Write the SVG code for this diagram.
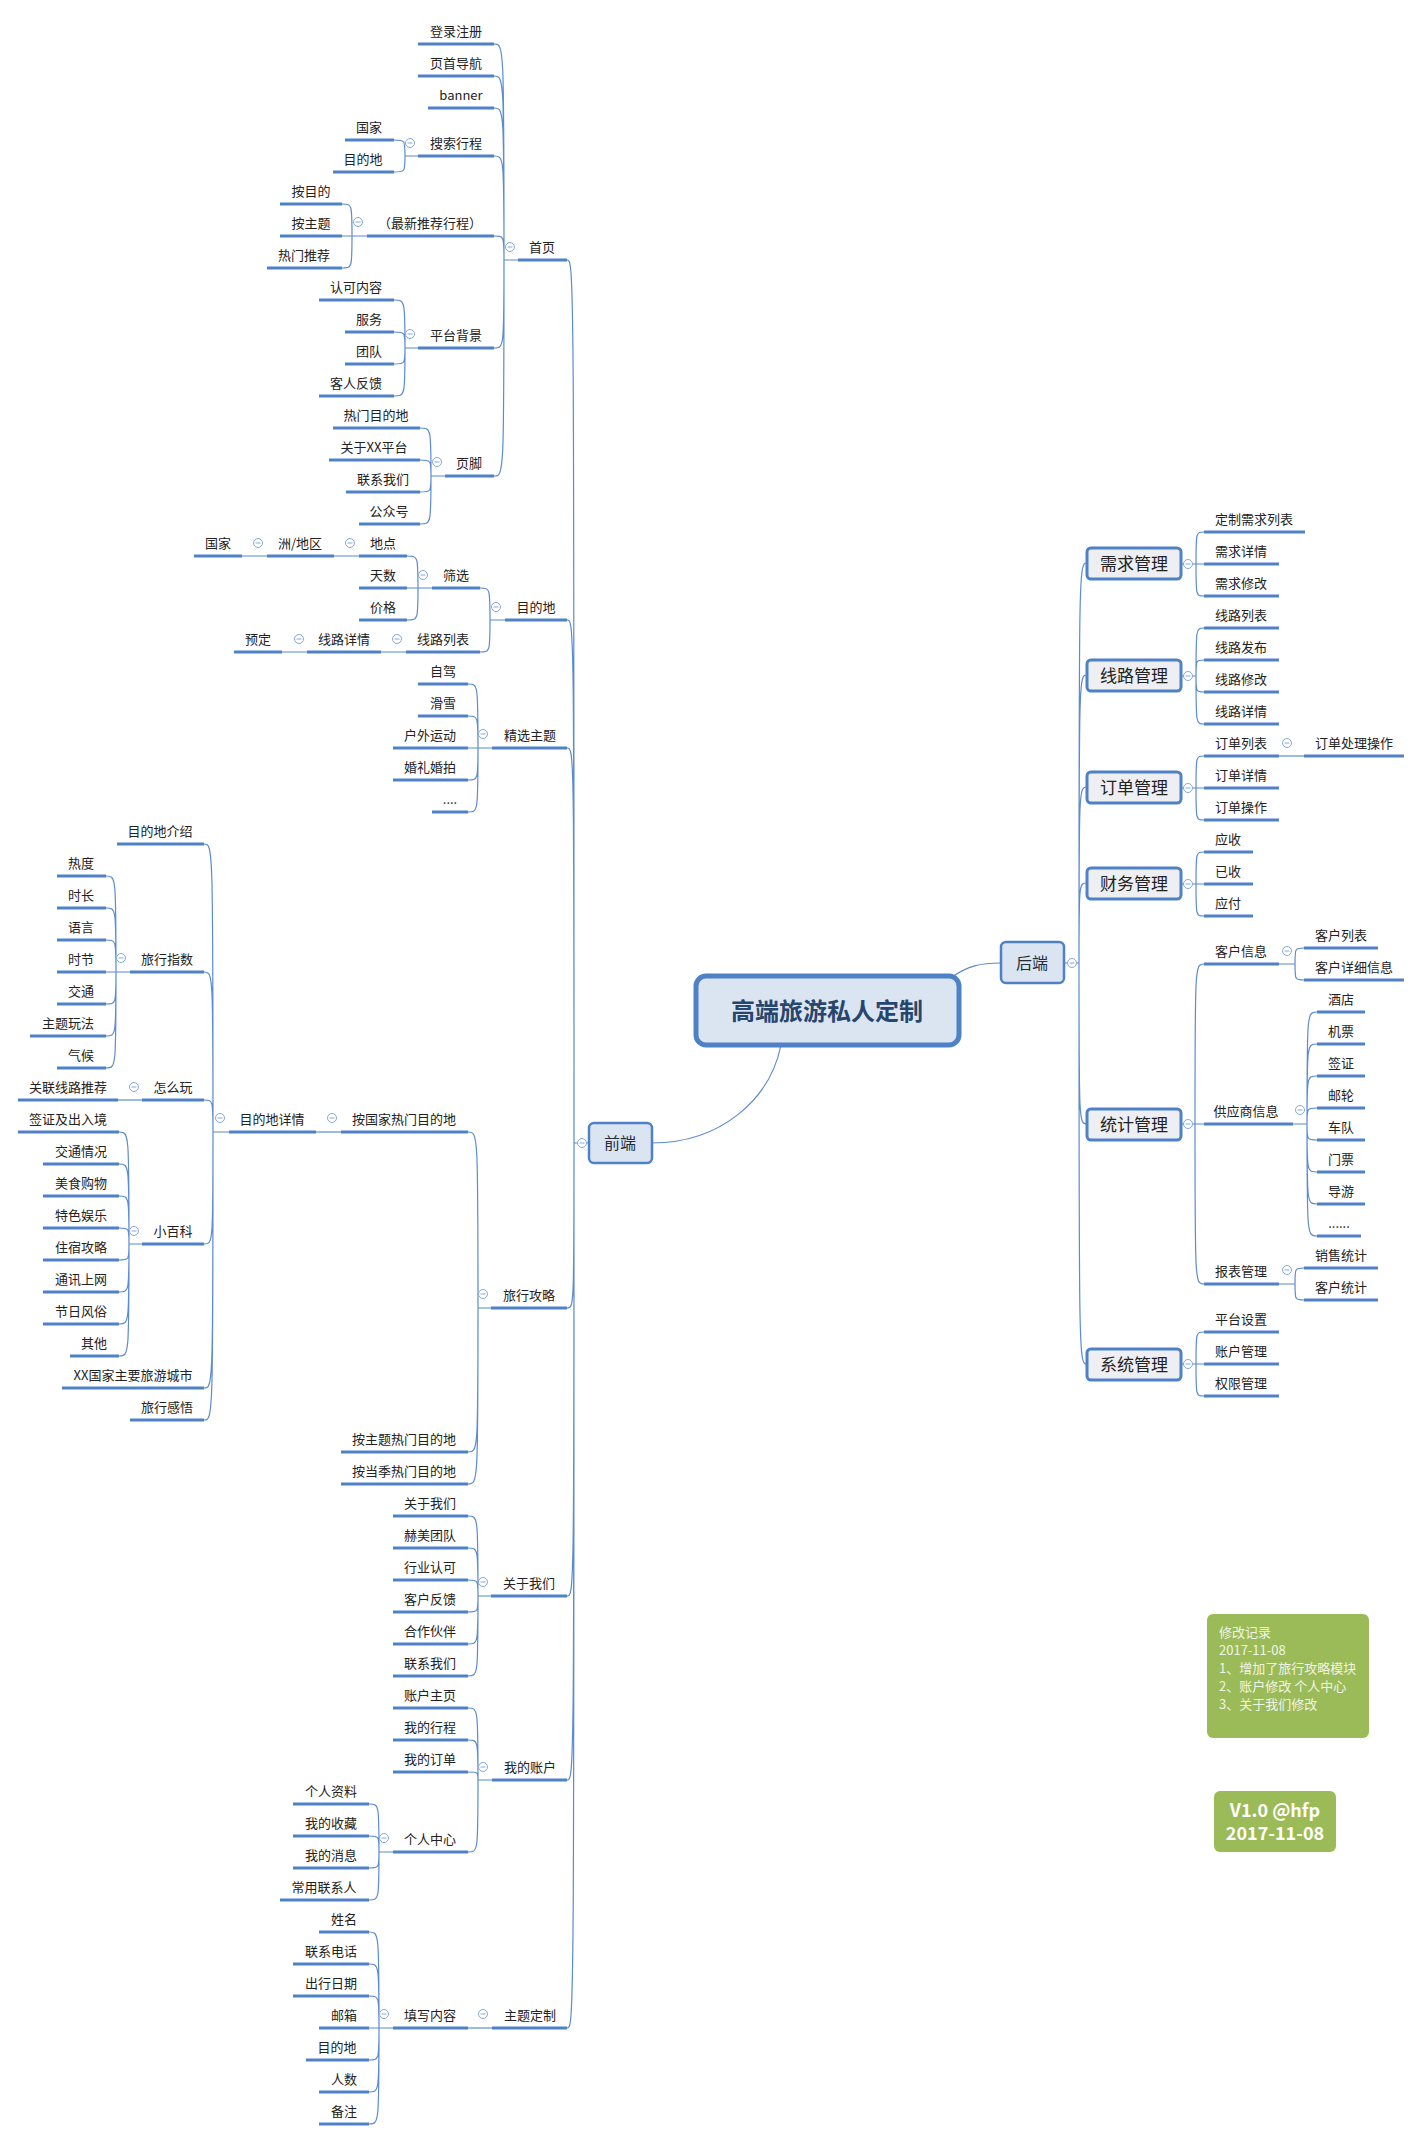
<svg xmlns="http://www.w3.org/2000/svg" xmlns:xlink="http://www.w3.org/1999/xlink" width="1422" height="2141" viewBox="0 0 1422 2141">
<style>
.u{stroke:#4f81c7;stroke-width:3}
.c{fill:none;stroke:#5b8bd0;stroke-width:1.2}
.t{font-family:"Noto Sans CJK SC","Noto Sans",sans-serif;font-size:13px;fill:#222;text-anchor:middle}
.b{fill:#eeeff3;stroke:#4f81c7;stroke-width:3}
.bt{font-family:"Noto Sans CJK SC",sans-serif;font-size:17px;fill:#222;text-anchor:middle}
.nt{font-family:"Noto Sans CJK SC",sans-serif;font-size:13px;fill:#f1f5e6}
.vt{font-family:"Noto Sans CJK SC",sans-serif;font-size:18px;font-weight:bold;fill:#fff;text-anchor:middle}
</style>
<defs>
<g id="mi"><circle r="4.5" fill="#fff" stroke="#86a8d8" stroke-width="1"/><path d="M-2.5,0H2.5" stroke="#86a8d8" stroke-width="1"/></g>
</defs>
<rect width="1422" height="2141" fill="#fff"/>

<g id="connectors">
<path class="c" d="M781,1045 C770,1100 720,1143 652,1143"/>
<path class="c" d="M952,977 C968,966 980,963 1001,963"/>
<path class="c" d="M589,1143 H574 M574,1143 C574,260 574,260 567,260 M574,1143 C574,620 574,620 567,620 M574,1143 C574,748 574,748 567,748 M574,1143 C574,1308 574,1308 567,1308 M574,1143 C574,1596 574,1596 567,1596 M574,1143 C574,1780 574,1780 567,1780 M574,1143 C574,2028 574,2028 567,2028"/>
<path class="c" d="M518,260 H504 M504,260 C504,44 504,44 494,44 M504,260 C504,76 504,76 494,76 M504,260 C504,108 504,108 494,108 M504,260 C504,156 504,156 494,156 M504,260 C504,236 504,236 494,236 M504,260 C504,348 504,348 494,348 M504,260 C504,476 504,476 494,476"/>
<path class="c" d="M418,156 H405 M405,156 C405,140 405,140 394,140 M405,156 C405,172 405,172 394,172"/>
<path class="c" d="M367,236 H352 M352,236 C352,204 352,204 342,204 M352,236 H342 M352,236 C352,268 352,268 342,268"/>
<path class="c" d="M418,348 H405 M405,348 C405,300 405,300 394,300 M405,348 C405,332 405,332 394,332 M405,348 C405,364 405,364 394,364 M405,348 C405,396 405,396 394,396"/>
<path class="c" d="M445,476 H431 M431,476 C431,428 431,428 420,428 M431,476 C431,460 431,460 420,460 M431,476 C431,492 431,492 420,492 M431,476 C431,524 431,524 420,524"/>
<path class="c" d="M505,620 H490 M490,620 C490,588 490,588 480,588 M490,620 C490,652 490,652 480,652"/>
<path class="c" d="M432,588 H418 M418,588 C418,556 418,556 407,556 M418,588 H407 M418,588 C418,620 418,620 407,620"/>
<path class="c" d="M359,556 H334 M267,556 H242 M406,652 H381 M307,652 H282"/>
<path class="c" d="M492,748 H478 M478,748 C478,684 478,684 468,684 M478,748 C478,716 478,716 468,716 M478,748 H468 M478,748 C478,780 478,780 468,780 M478,748 C478,812 478,812 468,812"/>
<path class="c" d="M491,1308 H478 M478,1308 C478,1132 478,1132 468,1132 M478,1308 C478,1452 478,1452 468,1452 M478,1308 C478,1484 478,1484 468,1484"/>
<path class="c" d="M341,1132 H316"/>
<path class="c" d="M229,1132 H213 M213,1132 C213,844 213,844 204,844 M213,1132 C213,972 213,972 204,972 M213,1132 C213,1100 213,1100 204,1100 M213,1132 C213,1244 213,1244 204,1244 M213,1132 C213,1388 213,1388 204,1388 M213,1132 C213,1420 213,1420 204,1420"/>
<path class="c" d="M130,972 H116 M116,972 C116,876 116,876 106,876 M116,972 C116,908 116,908 106,908 M116,972 C116,940 116,940 106,940 M116,972 H106 M116,972 C116,1004 116,1004 106,1004 M116,972 C116,1036 116,1036 106,1036 M116,972 C116,1068 116,1068 106,1068"/>
<path class="c" d="M142,1100 H118"/>
<path class="c" d="M142,1244 H129 M129,1244 C129,1132 129,1132 119,1132 M129,1244 C129,1164 129,1164 119,1164 M129,1244 C129,1196 129,1196 119,1196 M129,1244 C129,1228 129,1228 119,1228 M129,1244 C129,1260 129,1260 119,1260 M129,1244 C129,1292 129,1292 119,1292 M129,1244 C129,1324 129,1324 119,1324 M129,1244 C129,1356 129,1356 119,1356"/>
<path class="c" d="M491,1596 H478 M478,1596 C478,1516 478,1516 468,1516 M478,1596 C478,1548 478,1548 468,1548 M478,1596 C478,1580 478,1580 468,1580 M478,1596 C478,1612 478,1612 468,1612 M478,1596 C478,1644 478,1644 468,1644 M478,1596 C478,1676 478,1676 468,1676"/>
<path class="c" d="M492,1780 H478 M478,1780 C478,1708 478,1708 468,1708 M478,1780 C478,1740 478,1740 468,1740 M478,1780 C478,1772 478,1772 468,1772 M478,1780 C478,1852 478,1852 468,1852"/>
<path class="c" d="M393,1852 H379 M379,1852 C379,1804 379,1804 369,1804 M379,1852 C379,1836 379,1836 369,1836 M379,1852 C379,1868 379,1868 369,1868 M379,1852 C379,1900 379,1900 369,1900"/>
<path class="c" d="M492,2028 H468"/>
<path class="c" d="M393,2028 H379 M379,2028 C379,1932 379,1932 369,1932 M379,2028 C379,1964 379,1964 369,1964 M379,2028 C379,1996 379,1996 369,1996 M379,2028 H369 M379,2028 C379,2060 379,2060 369,2060 M379,2028 C379,2092 379,2092 369,2092 M379,2028 C379,2124 379,2124 369,2124"/>
<path class="c" d="M1064,963 H1079 M1079,963 C1079,563 1079,563 1087,563 M1079,963 C1079,675 1079,675 1087,675 M1079,963 C1079,787 1079,787 1087,787 M1079,963 C1079,883 1079,883 1087,883 M1079,963 C1079,1124 1079,1124 1087,1124 M1079,963 C1079,1364 1079,1364 1087,1364"/>
<path class="c" d="M1181,564 H1196 M1196,564 C1196,532 1196,532 1204,532 M1196,564 H1204 M1196,564 C1196,596 1196,596 1204,596"/>
<path class="c" d="M1181,676 H1196 M1196,676 C1196,628 1196,628 1204,628 M1196,676 C1196,660 1196,660 1204,660 M1196,676 C1196,692 1196,692 1204,692 M1196,676 C1196,724 1196,724 1204,724"/>
<path class="c" d="M1181,788 H1196 M1196,788 C1196,756 1196,756 1204,756 M1196,788 H1204 M1196,788 C1196,820 1196,820 1204,820"/>
<path class="c" d="M1279,756 H1304"/>
<path class="c" d="M1181,884 H1196 M1196,884 C1196,852 1196,852 1204,852 M1196,884 H1204 M1196,884 C1196,916 1196,916 1204,916"/>
<path class="c" d="M1181,1124 H1195 M1195,1124 C1195,964 1195,964 1204,964 M1195,1124 H1204 M1195,1124 C1195,1284 1195,1284 1204,1284"/>
<path class="c" d="M1279,964 H1295 M1295,964 C1295,948 1295,948 1304,948 M1295,964 C1295,980 1295,980 1304,980"/>
<path class="c" d="M1293,1124 H1307 M1307,1124 C1307,1012 1307,1012 1317,1012 M1307,1124 C1307,1044 1307,1044 1317,1044 M1307,1124 C1307,1076 1307,1076 1317,1076 M1307,1124 C1307,1108 1307,1108 1317,1108 M1307,1124 C1307,1140 1307,1140 1317,1140 M1307,1124 C1307,1172 1307,1172 1317,1172 M1307,1124 C1307,1204 1307,1204 1317,1204 M1307,1124 C1307,1236 1307,1236 1317,1236"/>
<path class="c" d="M1279,1284 H1295 M1295,1284 C1295,1268 1295,1268 1304,1268 M1295,1284 C1295,1300 1295,1300 1304,1300"/>
<path class="c" d="M1181,1364 H1196 M1196,1364 C1196,1332 1196,1332 1204,1332 M1196,1364 H1204 M1196,1364 C1196,1396 1196,1396 1204,1396"/>
</g>

<g id="root"><rect x="696" y="976" width="263" height="69" rx="10" fill="#dbe5f1" stroke="#4f81c7" stroke-width="5"/><text x="827" y="1020" font-family="'Noto Sans CJK SC',sans-serif" font-size="24" font-weight="bold" fill="#27466e" text-anchor="middle">高端旅游私人定制</text></g>
<g id="qianduan"><rect x="589" y="1123" width="63" height="40" rx="5" fill="#dbe5f1" stroke="#4f81c7" stroke-width="2.5"/><text x="620" y="1149" font-family="'Noto Sans CJK SC',sans-serif" font-size="16" fill="#1f2d3d" text-anchor="middle">前端</text><use xlink:href="#mi" x="582" y="1143"/></g>
<g id="houduan"><rect x="1001" y="942" width="63" height="41" rx="5" fill="#dbe5f1" stroke="#4f81c7" stroke-width="2.5"/><text x="1032" y="969" font-family="'Noto Sans CJK SC',sans-serif" font-size="16" fill="#1f2d3d" text-anchor="middle">后端</text><use xlink:href="#mi" x="1072" y="963"/></g>

<g id="n-shouye"><line class="u" x1="518" x2="567" y1="260" y2="260"/><text class="t" x="542" y="252">首页</text><use xlink:href="#mi" x="510" y="247"/></g>
<g id="n-denglu"><line class="u" x1="418" x2="494" y1="44" y2="44"/><text class="t" x="456" y="36">登录注册</text></g>
<g id="n-yeshou"><line class="u" x1="418" x2="494" y1="76" y2="76"/><text class="t" x="456" y="68">页首导航</text></g>
<g id="n-banner"><line class="u" x1="428" x2="494" y1="108" y2="108"/><text class="t" x="461" y="100">banner</text></g>
<g id="n-sousuo"><line class="u" x1="418" x2="494" y1="156" y2="156"/><text class="t" x="456" y="148">搜索行程</text><use xlink:href="#mi" x="410" y="143"/></g>
<g id="n-guojia1"><line class="u" x1="345" x2="394" y1="140" y2="140"/><text class="t" x="369" y="132">国家</text></g>
<g id="n-mudidi1"><line class="u" x1="333" x2="394" y1="172" y2="172"/><text class="t" x="363" y="164">目的地</text></g>
<g id="n-tuijian"><line class="u" x1="367" x2="494" y1="236" y2="236"/><text class="t" x="430" y="228">（最新推荐行程）</text><use xlink:href="#mi" x="358" y="222"/></g>
<g id="n-anmudi"><line class="u" x1="280" x2="342" y1="204" y2="204"/><text class="t" x="311" y="196">按目的</text></g>
<g id="n-anzhuti"><line class="u" x1="280" x2="342" y1="236" y2="236"/><text class="t" x="311" y="228">按主题</text></g>
<g id="n-remen"><line class="u" x1="267" x2="342" y1="268" y2="268"/><text class="t" x="304" y="260">热门推荐</text></g>
<g id="n-pingtai"><line class="u" x1="418" x2="494" y1="348" y2="348"/><text class="t" x="456" y="340">平台背景</text><use xlink:href="#mi" x="410" y="334"/></g>
<g id="n-renke"><line class="u" x1="319" x2="394" y1="300" y2="300"/><text class="t" x="356" y="292">认可内容</text></g>
<g id="n-fuwu"><line class="u" x1="345" x2="394" y1="332" y2="332"/><text class="t" x="369" y="324">服务</text></g>
<g id="n-tuandui"><line class="u" x1="345" x2="394" y1="364" y2="364"/><text class="t" x="369" y="356">团队</text></g>
<g id="n-keren"><line class="u" x1="319" x2="394" y1="396" y2="396"/><text class="t" x="356" y="388">客人反馈</text></g>
<g id="n-yejiao"><line class="u" x1="445" x2="494" y1="476" y2="476"/><text class="t" x="469" y="468">页脚</text><use xlink:href="#mi" x="437" y="462"/></g>
<g id="n-rmmdd"><line class="u" x1="333" x2="420" y1="428" y2="428"/><text class="t" x="376" y="420">热门目的地</text></g>
<g id="n-gyxx"><line class="u" x1="329" x2="420" y1="460" y2="460"/><text class="t" x="374" y="452">关于XX平台</text></g>
<g id="n-lxwm1"><line class="u" x1="346" x2="420" y1="492" y2="492"/><text class="t" x="383" y="484">联系我们</text></g>
<g id="n-gzh"><line class="u" x1="359" x2="420" y1="524" y2="524"/><text class="t" x="389" y="516">公众号</text></g>

<g id="n-mdd"><line class="u" x1="505" x2="567" y1="620" y2="620"/><text class="t" x="536" y="612">目的地</text><use xlink:href="#mi" x="496" y="607"/></g>
<g id="n-shaixuan"><line class="u" x1="432" x2="480" y1="588" y2="588"/><text class="t" x="456" y="580">筛选</text><use xlink:href="#mi" x="423" y="575"/></g>
<g id="n-didian"><line class="u" x1="359" x2="407" y1="556" y2="556"/><text class="t" x="383" y="548">地点</text><use xlink:href="#mi" x="350" y="543"/></g>
<g id="n-zhou"><line class="u" x1="267" x2="334" y1="556" y2="556"/><text class="t" x="300" y="548">洲/地区</text><use xlink:href="#mi" x="258" y="543"/></g>
<g id="n-guojia2"><line class="u" x1="194" x2="242" y1="556" y2="556"/><text class="t" x="218" y="548">国家</text></g>
<g id="n-tianshu"><line class="u" x1="359" x2="407" y1="588" y2="588"/><text class="t" x="383" y="580">天数</text></g>
<g id="n-jiage"><line class="u" x1="359" x2="407" y1="620" y2="620"/><text class="t" x="383" y="612">价格</text></g>
<g id="n-xllb"><line class="u" x1="406" x2="480" y1="652" y2="652"/><text class="t" x="443" y="644">线路列表</text><use xlink:href="#mi" x="397" y="639"/></g>
<g id="n-xlxq1"><line class="u" x1="307" x2="381" y1="652" y2="652"/><text class="t" x="344" y="644">线路详情</text><use xlink:href="#mi" x="299" y="639"/></g>
<g id="n-yuding"><line class="u" x1="234" x2="282" y1="652" y2="652"/><text class="t" x="258" y="644">预定</text></g>

<g id="n-jxzt"><line class="u" x1="492" x2="567" y1="748" y2="748"/><text class="t" x="530" y="740">精选主题</text><use xlink:href="#mi" x="483" y="734"/></g>
<g id="n-zijia"><line class="u" x1="418" x2="468" y1="684" y2="684"/><text class="t" x="443" y="676">自驾</text></g>
<g id="n-huaxue"><line class="u" x1="418" x2="468" y1="716" y2="716"/><text class="t" x="443" y="708">滑雪</text></g>
<g id="n-huwai"><line class="u" x1="393" x2="468" y1="748" y2="748"/><text class="t" x="430" y="740">户外运动</text></g>
<g id="n-hunli"><line class="u" x1="393" x2="468" y1="780" y2="780"/><text class="t" x="430" y="772">婚礼婚拍</text></g>
<g id="n-dots1"><line class="u" x1="432" x2="468" y1="812" y2="812"/><text class="t" x="450" y="804">....</text></g>

<g id="n-lxgl"><line class="u" x1="491" x2="567" y1="1308" y2="1308"/><text class="t" x="529" y="1300">旅行攻略</text><use xlink:href="#mi" x="483" y="1294"/></g>
<g id="n-agj"><line class="u" x1="341" x2="468" y1="1132" y2="1132"/><text class="t" x="404" y="1124">按国家热门目的地</text><use xlink:href="#mi" x="332" y="1118"/></g>
<g id="n-mddxq"><line class="u" x1="229" x2="316" y1="1132" y2="1132"/><text class="t" x="272" y="1124">目的地详情</text><use xlink:href="#mi" x="220" y="1118"/></g>
<g id="n-mddjs"><line class="u" x1="117" x2="204" y1="844" y2="844"/><text class="t" x="160" y="836">目的地介绍</text></g>
<g id="n-lxzs"><line class="u" x1="130" x2="204" y1="972" y2="972"/><text class="t" x="167" y="964">旅行指数</text><use xlink:href="#mi" x="121" y="958"/></g>
<g id="n-redu"><line class="u" x1="57" x2="106" y1="876" y2="876"/><text class="t" x="81" y="868">热度</text></g>
<g id="n-shichang"><line class="u" x1="57" x2="106" y1="908" y2="908"/><text class="t" x="81" y="900">时长</text></g>
<g id="n-yuyan"><line class="u" x1="57" x2="106" y1="940" y2="940"/><text class="t" x="81" y="932">语言</text></g>
<g id="n-shijie"><line class="u" x1="57" x2="106" y1="972" y2="972"/><text class="t" x="81" y="964">时节</text></g>
<g id="n-jiaotong"><line class="u" x1="57" x2="106" y1="1004" y2="1004"/><text class="t" x="81" y="996">交通</text></g>
<g id="n-ztwf"><line class="u" x1="30" x2="106" y1="1036" y2="1036"/><text class="t" x="68" y="1028">主题玩法</text></g>
<g id="n-qihou"><line class="u" x1="57" x2="106" y1="1068" y2="1068"/><text class="t" x="81" y="1060">气候</text></g>
<g id="n-zmw"><line class="u" x1="142" x2="204" y1="1100" y2="1100"/><text class="t" x="173" y="1092">怎么玩</text><use xlink:href="#mi" x="134" y="1087"/></g>
<g id="n-glxl"><line class="u" x1="18" x2="118" y1="1100" y2="1100"/><text class="t" x="68" y="1092">关联线路推荐</text></g>
<g id="n-xbk"><line class="u" x1="142" x2="204" y1="1244" y2="1244"/><text class="t" x="173" y="1236">小百科</text><use xlink:href="#mi" x="134" y="1231"/></g>
<g id="n-qz"><line class="u" x1="18" x2="119" y1="1132" y2="1132"/><text class="t" x="68" y="1124">签证及出入境</text></g>
<g id="n-jtqk"><line class="u" x1="43" x2="119" y1="1164" y2="1164"/><text class="t" x="81" y="1156">交通情况</text></g>
<g id="n-msgw"><line class="u" x1="43" x2="119" y1="1196" y2="1196"/><text class="t" x="81" y="1188">美食购物</text></g>
<g id="n-tsyl"><line class="u" x1="43" x2="119" y1="1228" y2="1228"/><text class="t" x="81" y="1220">特色娱乐</text></g>
<g id="n-zsgl"><line class="u" x1="43" x2="119" y1="1260" y2="1260"/><text class="t" x="81" y="1252">住宿攻略</text></g>
<g id="n-txsw"><line class="u" x1="43" x2="119" y1="1292" y2="1292"/><text class="t" x="81" y="1284">通讯上网</text></g>
<g id="n-jrfs"><line class="u" x1="43" x2="119" y1="1324" y2="1324"/><text class="t" x="81" y="1316">节日风俗</text></g>
<g id="n-qita"><line class="u" x1="70" x2="119" y1="1356" y2="1356"/><text class="t" x="94" y="1348">其他</text></g>
<g id="n-xxcs"><line class="u" x1="62" x2="204" y1="1388" y2="1388"/><text class="t" x="133" y="1380">XX国家主要旅游城市</text></g>
<g id="n-lxgw"><line class="u" x1="130" x2="204" y1="1420" y2="1420"/><text class="t" x="167" y="1412">旅行感悟</text></g>
<g id="n-azt"><line class="u" x1="341" x2="468" y1="1452" y2="1452"/><text class="t" x="404" y="1444">按主题热门目的地</text></g>
<g id="n-adj"><line class="u" x1="341" x2="468" y1="1484" y2="1484"/><text class="t" x="404" y="1476">按当季热门目的地</text></g>

<g id="n-gywm"><line class="u" x1="491" x2="567" y1="1596" y2="1596"/><text class="t" x="529" y="1588">关于我们</text><use xlink:href="#mi" x="483" y="1582"/></g>
<g id="n-gywm2"><line class="u" x1="393" x2="468" y1="1516" y2="1516"/><text class="t" x="430" y="1508">关于我们</text></g>
<g id="n-hmtd"><line class="u" x1="393" x2="468" y1="1548" y2="1548"/><text class="t" x="430" y="1540">赫美团队</text></g>
<g id="n-hyrk"><line class="u" x1="393" x2="468" y1="1580" y2="1580"/><text class="t" x="430" y="1572">行业认可</text></g>
<g id="n-khfk"><line class="u" x1="393" x2="468" y1="1612" y2="1612"/><text class="t" x="430" y="1604">客户反馈</text></g>
<g id="n-hzhb"><line class="u" x1="393" x2="468" y1="1644" y2="1644"/><text class="t" x="430" y="1636">合作伙伴</text></g>
<g id="n-lxwm2"><line class="u" x1="393" x2="468" y1="1676" y2="1676"/><text class="t" x="430" y="1668">联系我们</text></g>

<g id="n-wdzh"><line class="u" x1="492" x2="567" y1="1780" y2="1780"/><text class="t" x="530" y="1772">我的账户</text><use xlink:href="#mi" x="483" y="1767"/></g>
<g id="n-zhzy"><line class="u" x1="393" x2="468" y1="1708" y2="1708"/><text class="t" x="430" y="1700">账户主页</text></g>
<g id="n-wdxc"><line class="u" x1="393" x2="468" y1="1740" y2="1740"/><text class="t" x="430" y="1732">我的行程</text></g>
<g id="n-wddd"><line class="u" x1="393" x2="468" y1="1772" y2="1772"/><text class="t" x="430" y="1764">我的订单</text></g>
<g id="n-grzx"><line class="u" x1="393" x2="468" y1="1852" y2="1852"/><text class="t" x="430" y="1844">个人中心</text><use xlink:href="#mi" x="384" y="1838"/></g>
<g id="n-grzl"><line class="u" x1="293" x2="369" y1="1804" y2="1804"/><text class="t" x="331" y="1796">个人资料</text></g>
<g id="n-wdsc"><line class="u" x1="293" x2="369" y1="1836" y2="1836"/><text class="t" x="331" y="1828">我的收藏</text></g>
<g id="n-wdxx"><line class="u" x1="293" x2="369" y1="1868" y2="1868"/><text class="t" x="331" y="1860">我的消息</text></g>
<g id="n-cylxr"><line class="u" x1="280" x2="369" y1="1900" y2="1900"/><text class="t" x="324" y="1892">常用联系人</text></g>

<g id="n-ztdz"><line class="u" x1="492" x2="567" y1="2028" y2="2028"/><text class="t" x="530" y="2020">主题定制</text><use xlink:href="#mi" x="483" y="2014"/></g>
<g id="n-txnr"><line class="u" x1="393" x2="468" y1="2028" y2="2028"/><text class="t" x="430" y="2020">填写内容</text><use xlink:href="#mi" x="384" y="2014"/></g>
<g id="n-xingming"><line class="u" x1="319" x2="369" y1="1932" y2="1932"/><text class="t" x="344" y="1924">姓名</text></g>
<g id="n-lxdh"><line class="u" x1="293" x2="369" y1="1964" y2="1964"/><text class="t" x="331" y="1956">联系电话</text></g>
<g id="n-cxrq"><line class="u" x1="293" x2="369" y1="1996" y2="1996"/><text class="t" x="331" y="1988">出行日期</text></g>
<g id="n-youxiang"><line class="u" x1="319" x2="369" y1="2028" y2="2028"/><text class="t" x="344" y="2020">邮箱</text></g>
<g id="n-mdd3"><line class="u" x1="306" x2="369" y1="2060" y2="2060"/><text class="t" x="337" y="2052">目的地</text></g>
<g id="n-renshu"><line class="u" x1="319" x2="369" y1="2092" y2="2092"/><text class="t" x="344" y="2084">人数</text></g>
<g id="n-beizhu"><line class="u" x1="319" x2="369" y1="2124" y2="2124"/><text class="t" x="344" y="2116">备注</text></g>

<g id="b-xqgl"><rect class="b" x="1087" y="548" width="94" height="31" rx="4"/><text class="bt" x="1134" y="570">需求管理</text><use xlink:href="#mi" x="1188" y="564"/></g>
<g id="b-xlgl"><rect class="b" x="1087" y="660" width="94" height="31" rx="4"/><text class="bt" x="1134" y="682">线路管理</text><use xlink:href="#mi" x="1188" y="676"/></g>
<g id="b-ddgl"><rect class="b" x="1087" y="772" width="94" height="31" rx="4"/><text class="bt" x="1134" y="794">订单管理</text><use xlink:href="#mi" x="1188" y="788"/></g>
<g id="b-cwgl"><rect class="b" x="1087" y="868" width="94" height="31" rx="4"/><text class="bt" x="1134" y="890">财务管理</text><use xlink:href="#mi" x="1188" y="884"/></g>
<g id="b-tjgl"><rect class="b" x="1087" y="1109" width="94" height="31" rx="4"/><text class="bt" x="1134" y="1131">统计管理</text><use xlink:href="#mi" x="1188" y="1124"/></g>
<g id="b-xtgl"><rect class="b" x="1087" y="1349" width="94" height="31" rx="4"/><text class="bt" x="1134" y="1371">系统管理</text><use xlink:href="#mi" x="1188" y="1364"/></g>

<g id="r-dzxq"><line class="u" x1="1204" x2="1305" y1="532" y2="532"/><text class="t" x="1254" y="524">定制需求列表</text></g>
<g id="r-xqxq"><line class="u" x1="1204" x2="1279" y1="564" y2="564"/><text class="t" x="1241" y="556">需求详情</text></g>
<g id="r-xqxg"><line class="u" x1="1204" x2="1279" y1="596" y2="596"/><text class="t" x="1241" y="588">需求修改</text></g>
<g id="r-xllb"><line class="u" x1="1204" x2="1279" y1="628" y2="628"/><text class="t" x="1241" y="620">线路列表</text></g>
<g id="r-xlfb"><line class="u" x1="1204" x2="1279" y1="660" y2="660"/><text class="t" x="1241" y="652">线路发布</text></g>
<g id="r-xlxg"><line class="u" x1="1204" x2="1279" y1="692" y2="692"/><text class="t" x="1241" y="684">线路修改</text></g>
<g id="r-xlxq"><line class="u" x1="1204" x2="1279" y1="724" y2="724"/><text class="t" x="1241" y="716">线路详情</text></g>
<g id="r-ddlb"><line class="u" x1="1204" x2="1279" y1="756" y2="756"/><text class="t" x="1241" y="748">订单列表</text><use xlink:href="#mi" x="1287" y="743"/></g>
<g id="r-ddclcz"><line class="u" x1="1304" x2="1404" y1="756" y2="756"/><text class="t" x="1354" y="748">订单处理操作</text></g>
<g id="r-ddxq"><line class="u" x1="1204" x2="1279" y1="788" y2="788"/><text class="t" x="1241" y="780">订单详情</text></g>
<g id="r-ddcz"><line class="u" x1="1204" x2="1279" y1="820" y2="820"/><text class="t" x="1241" y="812">订单操作</text></g>
<g id="r-ys"><line class="u" x1="1204" x2="1253" y1="852" y2="852"/><text class="t" x="1228" y="844">应收</text></g>
<g id="r-yis"><line class="u" x1="1204" x2="1253" y1="884" y2="884"/><text class="t" x="1228" y="876">已收</text></g>
<g id="r-yf"><line class="u" x1="1204" x2="1253" y1="916" y2="916"/><text class="t" x="1228" y="908">应付</text></g>
<g id="r-khxx"><line class="u" x1="1204" x2="1279" y1="964" y2="964"/><text class="t" x="1241" y="956">客户信息</text><use xlink:href="#mi" x="1287" y="951"/></g>
<g id="r-khlb"><line class="u" x1="1304" x2="1378" y1="948" y2="948"/><text class="t" x="1341" y="940">客户列表</text></g>
<g id="r-khxxxx"><line class="u" x1="1304" x2="1404" y1="980" y2="980"/><text class="t" x="1354" y="972">客户详细信息</text></g>
<g id="r-gysxx"><line class="u" x1="1204" x2="1293" y1="1124" y2="1124"/><text class="t" x="1246" y="1116">供应商信息</text><use xlink:href="#mi" x="1300" y="1110"/></g>
<g id="r-jiudian"><line class="u" x1="1317" x2="1365" y1="1012" y2="1012"/><text class="t" x="1341" y="1004">酒店</text></g>
<g id="r-jipiao"><line class="u" x1="1317" x2="1365" y1="1044" y2="1044"/><text class="t" x="1341" y="1036">机票</text></g>
<g id="r-qianzheng"><line class="u" x1="1317" x2="1365" y1="1076" y2="1076"/><text class="t" x="1341" y="1068">签证</text></g>
<g id="r-youlun"><line class="u" x1="1317" x2="1365" y1="1108" y2="1108"/><text class="t" x="1341" y="1100">邮轮</text></g>
<g id="r-chedui"><line class="u" x1="1317" x2="1365" y1="1140" y2="1140"/><text class="t" x="1341" y="1132">车队</text></g>
<g id="r-menpiao"><line class="u" x1="1317" x2="1365" y1="1172" y2="1172"/><text class="t" x="1341" y="1164">门票</text></g>
<g id="r-daoyou"><line class="u" x1="1317" x2="1365" y1="1204" y2="1204"/><text class="t" x="1341" y="1196">导游</text></g>
<g id="r-dots"><line class="u" x1="1317" x2="1361" y1="1236" y2="1236"/><text class="t" x="1339" y="1228">......</text></g>
<g id="r-bbgl"><line class="u" x1="1204" x2="1279" y1="1284" y2="1284"/><text class="t" x="1241" y="1276">报表管理</text><use xlink:href="#mi" x="1287" y="1270"/></g>
<g id="r-xstj"><line class="u" x1="1304" x2="1378" y1="1268" y2="1268"/><text class="t" x="1341" y="1260">销售统计</text></g>
<g id="r-khtj"><line class="u" x1="1304" x2="1378" y1="1300" y2="1300"/><text class="t" x="1341" y="1292">客户统计</text></g>
<g id="r-ptsz"><line class="u" x1="1204" x2="1279" y1="1332" y2="1332"/><text class="t" x="1241" y="1324">平台设置</text></g>
<g id="r-zhgl"><line class="u" x1="1204" x2="1279" y1="1364" y2="1364"/><text class="t" x="1241" y="1356">账户管理</text></g>
<g id="r-qxgl"><line class="u" x1="1204" x2="1279" y1="1396" y2="1396"/><text class="t" x="1241" y="1388">权限管理</text></g>

<g id="note-log"><rect x="1207" y="1614" width="162" height="124" rx="6" fill="#9bbb59"/>
<text class="nt" x="1219" y="1637">修改记录</text>
<text class="nt" x="1219" y="1655">2017-11-08</text>
<text class="nt" x="1219" y="1673">1、增加了旅行攻略模块</text>
<text class="nt" x="1219" y="1691">2、账户修改 个人中心</text>
<text class="nt" x="1219" y="1709">3、关于我们修改</text></g>
<g id="note-ver"><rect x="1214" y="1791" width="122" height="61" rx="6" fill="#9bbb59"/>
<text class="vt" x="1275" y="1817">V1.0 @hfp</text>
<text class="vt" x="1275" y="1840">2017-11-08</text></g>
</svg>
